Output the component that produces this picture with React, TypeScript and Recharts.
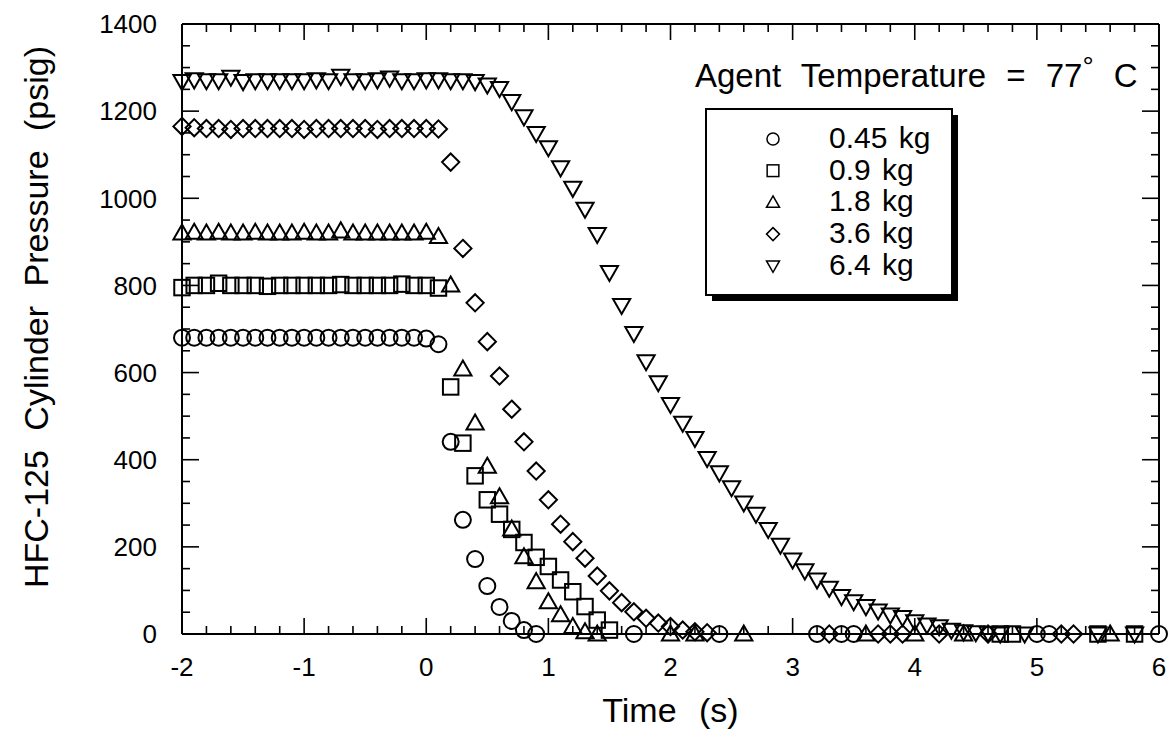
import React from 'react'
import { ScatterChart, Scatter, XAxis, YAxis, Legend, ReferenceLine } from 'recharts'

const FONT = '"Liberation Sans", Arial, Helvetica, sans-serif'

// [time (s), cylinder pressure (psig)]
const kg045: [number, number][] = [
  [-2.0, 680], [-1.9, 680], [-1.8, 680], [-1.7, 680], [-1.6, 680], [-1.5, 680], [-1.4, 680], [-1.3, 680],
  [-1.2, 680], [-1.1, 680], [-1.0, 680], [-0.9, 680], [-0.8, 680], [-0.7, 680], [-0.6, 680], [-0.5, 680],
  [-0.4, 680], [-0.3, 680], [-0.2, 680], [-0.1, 680], [0.0, 678], [0.1, 665],
  [0.2, 441], [0.3, 262], [0.4, 172], [0.5, 110], [0.6, 62], [0.7, 30], [0.8, 9], [0.9, 0],
  [1.7, 0], [2.4, 0], [3.2, 0], [3.4, 0], [3.5, 0], [5.0, 0], [5.1, 0], [6.0, 0],
]

const kg09: [number, number][] = [
  [-2.0, 795], [-1.9, 800], [-1.8, 800], [-1.7, 805], [-1.6, 800], [-1.5, 800], [-1.4, 800], [-1.3, 798],
  [-1.2, 800], [-1.1, 800], [-1.0, 800], [-0.9, 800], [-0.8, 800], [-0.7, 802], [-0.6, 800], [-0.5, 800],
  [-0.4, 800], [-0.3, 800], [-0.2, 803], [-0.1, 800], [0.0, 800], [0.1, 794],
  [0.2, 567], [0.3, 438], [0.4, 363], [0.5, 308], [0.6, 275], [0.7, 240], [0.8, 210], [0.9, 176],
  [1.0, 155], [1.1, 124], [1.2, 97], [1.3, 63], [1.4, 32], [1.5, 9],
  [4.7, 0], [4.8, 0], [5.5, 0], [5.8, 0],
]

const kg18: [number, number][] = [
  [-2.0, 920], [-1.9, 922], [-1.8, 920], [-1.7, 922], [-1.6, 920], [-1.5, 920], [-1.4, 922], [-1.3, 920],
  [-1.2, 920], [-1.1, 920], [-1.0, 922], [-0.9, 920], [-0.8, 920], [-0.7, 925], [-0.6, 920], [-0.5, 920],
  [-0.4, 920], [-0.3, 920], [-0.2, 920], [-0.1, 920], [0.0, 922], [0.1, 912],
  [0.2, 801], [0.3, 608], [0.4, 484], [0.5, 385], [0.6, 315], [0.7, 241], [0.8, 177], [0.9, 120],
  [1.0, 74], [1.1, 44], [1.2, 17], [1.3, 5], [1.4, 0],
  [2.0, 0], [2.2, 0], [2.6, 0], [3.6, 0], [4.0, 0], [4.4, 0], [5.6, 0],
]

const kg36: [number, number][] = [
  [-2.0, 1165], [-1.9, 1162], [-1.8, 1160], [-1.7, 1160], [-1.6, 1158], [-1.5, 1160], [-1.4, 1160], [-1.3, 1160],
  [-1.2, 1160], [-1.1, 1160], [-1.0, 1158], [-0.9, 1160], [-0.8, 1160], [-0.7, 1160], [-0.6, 1160], [-0.5, 1160],
  [-0.4, 1158], [-0.3, 1160], [-0.2, 1160], [-0.1, 1160], [0.0, 1160], [0.1, 1159],
  [0.2, 1083], [0.3, 885], [0.4, 760], [0.5, 671], [0.6, 592], [0.7, 516], [0.8, 441], [0.9, 374],
  [1.0, 308], [1.1, 252], [1.2, 212], [1.3, 174], [1.4, 133], [1.5, 99], [1.6, 72], [1.7, 51],
  [1.8, 36], [1.9, 25], [2.0, 17], [2.1, 9], [2.2, 5], [2.3, 3],
  [3.3, 0], [3.7, 0], [3.8, 0], [3.9, 0], [4.2, 0], [4.6, 0], [5.2, 0], [5.3, 0],
]

const kg64: [number, number][] = [
  [-2.0, 1268], [-1.9, 1272], [-1.8, 1270], [-1.7, 1270], [-1.6, 1278], [-1.5, 1268], [-1.4, 1270], [-1.3, 1270],
  [-1.2, 1270], [-1.1, 1270], [-1.0, 1270], [-0.9, 1272], [-0.8, 1270], [-0.7, 1280], [-0.6, 1270], [-0.5, 1270],
  [-0.4, 1272], [-0.3, 1276], [-0.2, 1270], [-0.1, 1270], [0.0, 1272], [0.1, 1272], [0.2, 1270], [0.3, 1270],
  [0.4, 1268], [0.5, 1260], [0.6, 1252], [0.7, 1222], [0.8, 1187], [0.9, 1149], [1.0, 1116], [1.1, 1070],
  [1.2, 1023], [1.3, 975], [1.4, 917], [1.5, 830], [1.6, 754], [1.7, 690], [1.8, 625], [1.9, 577],
  [2.0, 527], [2.1, 484], [2.2, 449], [2.3, 403], [2.4, 370], [2.5, 336], [2.6, 301], [2.7, 275],
  [2.8, 240], [2.9, 204], [3.0, 170], [3.1, 145], [3.2, 124], [3.3, 105], [3.4, 86], [3.5, 74],
  [3.6, 63], [3.7, 53], [3.8, 44], [3.9, 38], [4.0, 28], [4.1, 21], [4.2, 17], [4.3, 9],
  [4.4, 5], [4.5, 3], [4.6, 2], [4.7, 0], [4.9, 0], [5.5, 0], [5.8, 0],
]

const X_MAJOR = [-2, -1, 0, 1, 2, 3, 4, 5, 6]
const X_MINOR = [
  -1.8, -1.6, -1.4, -1.2, -0.8, -0.6, -0.4, -0.2, 0.2, 0.4, 0.6, 0.8, 1.2, 1.4, 1.6, 1.8,
  2.2, 2.4, 2.6, 2.8, 3.2, 3.4, 3.6, 3.8, 4.2, 4.4, 4.6, 4.8, 5.2, 5.4, 5.6, 5.8,
]
const Y_MAJOR = [0, 200, 400, 600, 800, 1000, 1200, 1400]
const Y_MINOR = [50, 100, 150, 250, 300, 350, 450, 500, 550, 650, 700, 750, 850, 900, 950, 1050, 1100, 1150, 1250, 1300, 1350]

const X_DOMAIN: [number, number] = [-2, 6]
const Y_DOMAIN: [number, number] = [0, 1400]

// plot box is 977 x 610 px; inward tick lengths expressed in data units
const S_PER_PX = 8 / 977
const PSIG_PER_PX = 1400 / 610
const TX_MAJ = 16 * PSIG_PER_PX
const TX_MIN = 8 * PSIG_PER_PX
const TY_MAJ = 17 * S_PER_PX
const TY_MIN = 8 * S_PER_PX

const toPts = (rows: [number, number][]) => rows.map(([t, p]) => ({ t, p }))

type Kind = 'circle' | 'square' | 'up' | 'diamond' | 'down'

function Marker({ kind, cx, cy, s = 8.6, sw = 2 }: { kind: Kind; cx: number; cy: number; s?: number; sw?: number }) {
  const common = { fill: 'none', stroke: '#000', strokeWidth: sw }
  switch (kind) {
    case 'circle':
      return <circle cx={cx} cy={cy} r={s * 0.93} {...common} />
    case 'square':
      return <rect x={cx - s * 0.9} y={cy - s * 0.9} width={s * 1.8} height={s * 1.8} {...common} />
    case 'up':
      return <path d={`M${cx},${cy - s}L${cx + s},${cy + s * 0.75}L${cx - s},${cy + s * 0.75}Z`} {...common} />
    case 'diamond':
      return <path d={`M${cx},${cy - s}L${cx + s},${cy}L${cx},${cy + s}L${cx - s},${cy}Z`} {...common} />
    default:
      return <path d={`M${cx - s},${cy - s * 0.75}L${cx + s},${cy - s * 0.75}L${cx},${cy + s}Z`} {...common} />
  }
}

const shapeOf = (kind: Kind) => (props: any) => <Marker kind={kind} cx={props.cx} cy={props.cy} />

const SERIES: { name: string; kind: Kind; rows: [number, number][] }[] = [
  { name: '0.45 kg', kind: 'circle', rows: kg045 },
  { name: '0.9 kg', kind: 'square', rows: kg09 },
  { name: '1.8 kg', kind: 'up', rows: kg18 },
  { name: '3.6 kg', kind: 'diamond', rows: kg36 },
  { name: '6.4 kg', kind: 'down', rows: kg64 },
]

// legend box drawn in its own svg; origin of the svg sits at (690, 40) of the chart
function LegendBox() {
  return (
    <svg width={480} height={280} style={{ overflow: 'visible' }}>
      <text x={5} y={47} fontFamily={FONT} fontSize={33} wordSpacing={11} fill="#000">
        Agent Temperature = 77<tspan fontSize={28} dy={-11}>°</tspan><tspan dy={11}> C</tspan>
      </text>
      <rect x={22} y={75} width={246} height={186} fill="#000" />
      <rect x={16} y={69} width={246} height={186} fill="#fff" stroke="#000" strokeWidth={2} />
      {SERIES.map((s, i) => (
        <g key={s.name}>
          <Marker kind={s.kind} cx={83} cy={99 + i * 31.7} s={6.5} sw={1.5} />
          <text x={139} y={108 + i * 31.7} fontFamily={FONT} fontSize={30} wordSpacing={3} fill="#000">{s.name}</text>
        </g>
      ))}
    </svg>
  )
}

const tickFont = { fill: '#000', fontSize: 26, fontFamily: FONT }
const frame = { stroke: '#000', strokeWidth: 2 }
const TL = { stroke: '#000', strokeWidth: 1.6, xAxisId: 'x', yAxisId: 'y' }

export default function App() {
  const [x0, x1] = X_DOMAIN
  const [y0, y1] = Y_DOMAIN
  return (
    <div style={{ position: 'absolute', left: 0, top: 0, background: '#fff' }}>
      <ScatterChart width={1173} height={746} margin={{ top: 24, right: 14, bottom: 0, left: 0 }}>
        <XAxis
          xAxisId="x" type="number" dataKey="t" domain={X_DOMAIN} ticks={X_MAJOR} interval={0}
          tickLine={false} tickSize={0} tickMargin={24} axisLine={frame} tick={tickFont} height={112}
          label={{
            content: ({ viewBox }: any) => (
              <text x={viewBox.x + viewBox.width / 2} y={viewBox.y + 88} textAnchor="middle"
                fontFamily={FONT} fontSize={34} wordSpacing={13} fill="#000">Time (s)</text>
            ),
          }}
        />
        <YAxis
          yAxisId="y" type="number" dataKey="p" domain={Y_DOMAIN} ticks={Y_MAJOR} interval={0}
          tickLine={false} tickSize={0} tickMargin={25} axisLine={frame} tick={tickFont} width={182}
          label={{
            content: ({ viewBox }: any) => {
              const cx = viewBox.x + 36
              const cy = viewBox.y + viewBox.height / 2 - 12
              return (
                <text x={cx} y={cy} transform={`rotate(-90, ${cx}, ${cy})`} textAnchor="middle" dominantBaseline="central"
                  fontFamily={FONT} fontSize={34} wordSpacing={10} fill="#000">HFC-125 Cylinder Pressure (psig)</text>
              )
            },
          }}
        />

        {/* top and right frame */}
        <ReferenceLine {...TL} strokeWidth={2} y={y1} />
        <ReferenceLine {...TL} strokeWidth={2} x={x1} />

        {/* inward ticks on all four sides */}
        {X_MAJOR.map((v) => (
          <ReferenceLine key={`xb${v}`} {...TL} segment={[{ x: v, y: y0 }, { x: v, y: y0 + TX_MAJ }]} />
        ))}
        {X_MAJOR.map((v) => (
          <ReferenceLine key={`xt${v}`} {...TL} segment={[{ x: v, y: y1 }, { x: v, y: y1 - TX_MAJ }]} />
        ))}
        {X_MINOR.map((v) => (
          <ReferenceLine key={`xbm${v}`} {...TL} segment={[{ x: v, y: y0 }, { x: v, y: y0 + TX_MIN }]} />
        ))}
        {X_MINOR.map((v) => (
          <ReferenceLine key={`xtm${v}`} {...TL} segment={[{ x: v, y: y1 }, { x: v, y: y1 - TX_MIN }]} />
        ))}
        {Y_MAJOR.map((v) => (
          <ReferenceLine key={`yl${v}`} {...TL} segment={[{ x: x0, y: v }, { x: x0 + TY_MAJ, y: v }]} />
        ))}
        {Y_MAJOR.map((v) => (
          <ReferenceLine key={`yr${v}`} {...TL} segment={[{ x: x1, y: v }, { x: x1 - TY_MAJ, y: v }]} />
        ))}
        {Y_MINOR.map((v) => (
          <ReferenceLine key={`ylm${v}`} {...TL} segment={[{ x: x0, y: v }, { x: x0 + TY_MIN, y: v }]} />
        ))}
        {Y_MINOR.map((v) => (
          <ReferenceLine key={`yrm${v}`} {...TL} segment={[{ x: x1, y: v }, { x: x1 - TY_MIN, y: v }]} />
        ))}

        {SERIES.map((s) => (
          <Scatter key={s.name} name={s.name} xAxisId="x" yAxisId="y" data={toPts(s.rows)}
            shape={shapeOf(s.kind)} isAnimationActive={false} />
        ))}

        <Legend layout="vertical" align="center" verticalAlign="middle" content={LegendBox}
          wrapperStyle={{ position: 'absolute', left: 690, top: 40, width: 480, height: 280 }} />
      </ScatterChart>
    </div>
  )
}
